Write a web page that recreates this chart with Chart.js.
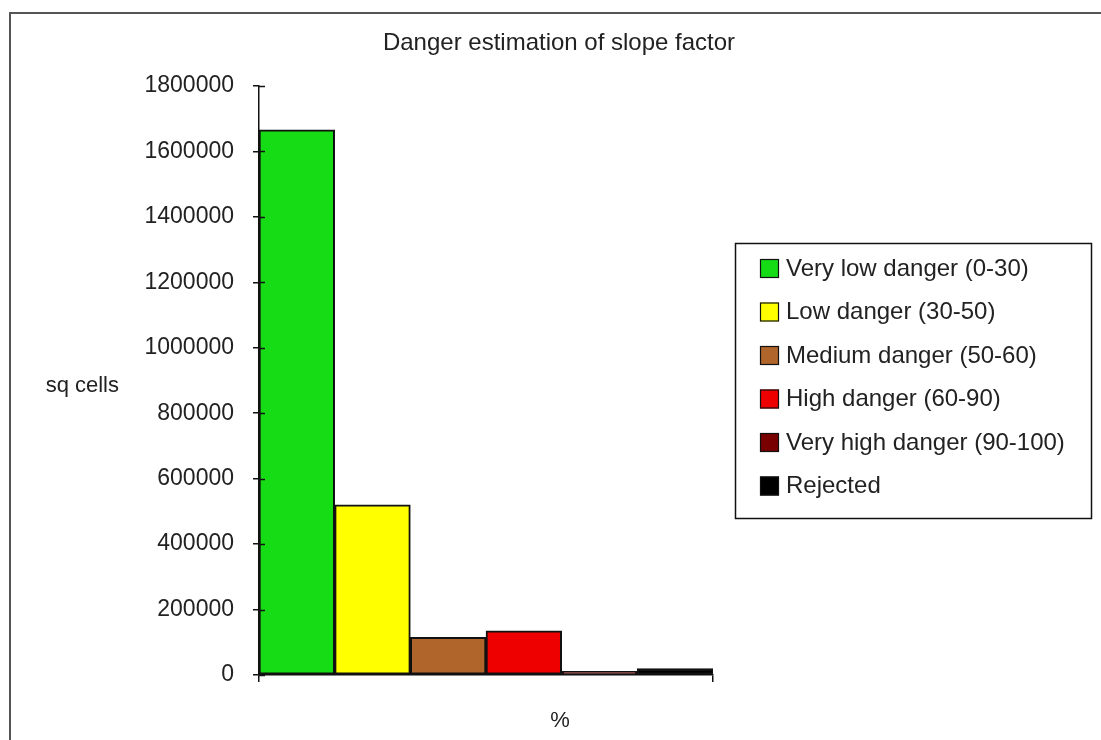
<!DOCTYPE html>
<html>
<head>
<meta charset="utf-8">
<script src="https://cdn.jsdelivr.net/npm/chart.js@4/dist/chart.umd.min.js"></script>
<style>
  html, body { margin: 0; padding: 0; background: #ffffff; }
  canvas { display: block; }
</style>
</head>
<body>
<canvas id="c" width="1101" height="740"></canvas>
<script>
// ---- data ----
const chartTitle = "Danger estimation of slope factor";
const yAxisTitle = "sq cells";
const xAxisTitle = "%";
const categories = [""];
const seriesNames = [
  "Very low danger (0-30)",
  "Low danger (30-50)",
  "Medium danger (50-60)",
  "High danger (60-90)",
  "Very high danger (90-100)",
  "Rejected"
];
const seriesValues = [1666000, 520000, 115000, 135000, 11000, 20000];
const seriesColors = ["#16dc16", "#ffff00", "#b0652a", "#ee0000", "#780000", "#000000"];
const yMin = 0, yMax = 1800000, yStep = 200000;

const FONT = "'Liberation Sans', Arial, sans-serif";
Chart.defaults.font.family = FONT;
Chart.defaults.color = "#222";

const datasets = seriesNames.map((name, i) => ({
  label: name,
  data: [seriesValues[i]],
  backgroundColor: seriesColors[i],
  borderColor: "#111",
  borderWidth: 2,
  borderSkipped: false,
  categoryPercentage: 1.0,
  barPercentage: 1.0
}));

const decor = {
  id: "decor",
  beforeDraw(chart) {
    const ctx = chart.ctx;
    ctx.save();
    ctx.fillStyle = "#fff";
    ctx.fillRect(0, 0, chart.width, chart.height);
    ctx.restore();
  },
  afterDraw(chart) {
    const ctx = chart.ctx;
    const ca = chart.chartArea;
    ctx.save();
    // outer frame
    ctx.strokeStyle = "#555";
    ctx.lineWidth = 2;
    ctx.beginPath();
    ctx.moveTo(10, 745);
    ctx.lineTo(10, 13);
    ctx.lineTo(1105, 13);
    ctx.stroke();

    // inward tick marks on y axis
    const ys = chart.scales.y;
    ctx.strokeStyle = "#111";
    ctx.lineWidth = 1.5;
    ys.ticks.forEach(t => {
      const py = Math.round(ys.getPixelForValue(t.value)) + 0.5;
      ctx.beginPath();
      ctx.moveTo(ca.left, py);
      ctx.lineTo(ca.left + 6, py);
      ctx.stroke();
    });

    // title
    ctx.fillStyle = "#222";
    ctx.textAlign = "center";
    ctx.textBaseline = "middle";
    ctx.font = "24px " + FONT;
    ctx.fillText(chartTitle, 559, 43);

    // axis titles
    ctx.font = "22px " + FONT;
    ctx.textAlign = "right";
    ctx.fillText(yAxisTitle, 119, 386);
    ctx.textAlign = "center";
    ctx.fillText(xAxisTitle, 560, 721);

    // legend box
    const bx = 735.5, by = 243.5, bw = 356, bh = 275;
    ctx.fillStyle = "#fff";
    ctx.fillRect(bx, by, bw, bh);
    ctx.strokeStyle = "#111";
    ctx.lineWidth = 1.5;
    ctx.strokeRect(bx, by, bw, bh);
    ctx.font = "24px " + FONT;
    ctx.textAlign = "left";
    chart.data.datasets.forEach((ds, i) => {
      const cy = 268 + i * 43.5;
      ctx.fillStyle = ds.backgroundColor;
      ctx.fillRect(760, cy - 9, 19, 19);
      ctx.strokeStyle = "#111";
      ctx.lineWidth = 1.2;
      ctx.strokeRect(760.5, cy - 8.5, 18, 18);
      ctx.fillStyle = "#222";
      ctx.fillText(ds.label, 786, cy + 1);
    });
    ctx.restore();
  }
};

new Chart(document.getElementById("c"), {
  type: "bar",
  data: { labels: categories, datasets },
  options: {
    responsive: false,
    animation: false,
    layout: { padding: { left: 0, top: 86, right: 388, bottom: 0 } },
    plugins: {
      legend: { display: false },
      title: { display: false },
      tooltip: { enabled: false }
    },
    scales: {
      x: {
        offset: true,
        grid: { display: true, drawOnChartArea: false, offset: true, color: "#111", lineWidth: 1.5, tickLength: 7 },
        border: { display: true, color: "#111", width: 1.5 },
        ticks: { display: false },
        afterFit: s => { s.height = 65; }
      },
      y: {
        min: yMin, max: yMax,
        grid: { display: true, drawOnChartArea: false, color: "#111", lineWidth: 1.5, tickLength: 6 },
        border: { display: true, color: "#111", width: 1.5 },
        ticks: {
          stepSize: yStep,
          padding: 19,
          font: { size: 23 },
          color: "#222",
          callback: v => String(v)
        },
        afterFit: s => { s.width = 259; }
      }
    }
  },
  plugins: [decor]
});
</script>
</body>
</html>
